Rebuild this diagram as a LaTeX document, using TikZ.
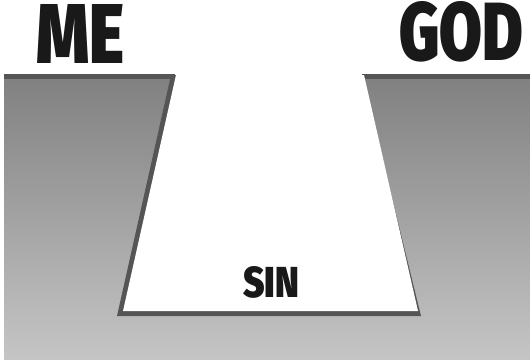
\documentclass[tikz,border=0pt]{standalone}
\usepackage{fontspec}
\newfontfamily\heavy{Fira Sans}[UprightFont={* Black}]
\usepackage{graphicx}
\definecolor{gtop}{RGB}{128,128,128}
\definecolor{gbot}{RGB}{197,197,197}
\definecolor{edge}{RGB}{85,85,85}
\definecolor{ink}{RGB}{25,25,25}
\tikzset{
  word/.style={inner sep=0pt, anchor=south west, text=ink},
}
\begin{document}
\begin{tikzpicture}[x=1pt,y=-1pt]
\useasboundingbox (0,0) rectangle (530,359);
\fill[white] (0,0) rectangle (530,359);
% ground with gradient
\shade[top color=gtop, bottom color=gbot] (4,75) rectangle (530,359);
% top dark bands
\fill[edge] (4,74) rectangle (175,79);
\fill[edge] (362,74) rectangle (530,79);
% dark edge around the gap
\fill[edge] (171,75) -- (117,316) -- (421,316) -- (362,75) -- cycle;
% the gap
\fill[white] (176,75) -- (123,311) -- (418,311) -- (364,75) -- cycle;
% words
\node[word] (me) at (36,64) {\resizebox{88pt}{59pt}{\heavy ME}};
\node[word] (god) at (399,62) {\resizebox{124pt}{59pt}{\heavy GOD}};
\node[word] (sin) at (243,299) {\resizebox{56pt}{31pt}{\heavy SIN}};
\end{tikzpicture}
\end{document}
